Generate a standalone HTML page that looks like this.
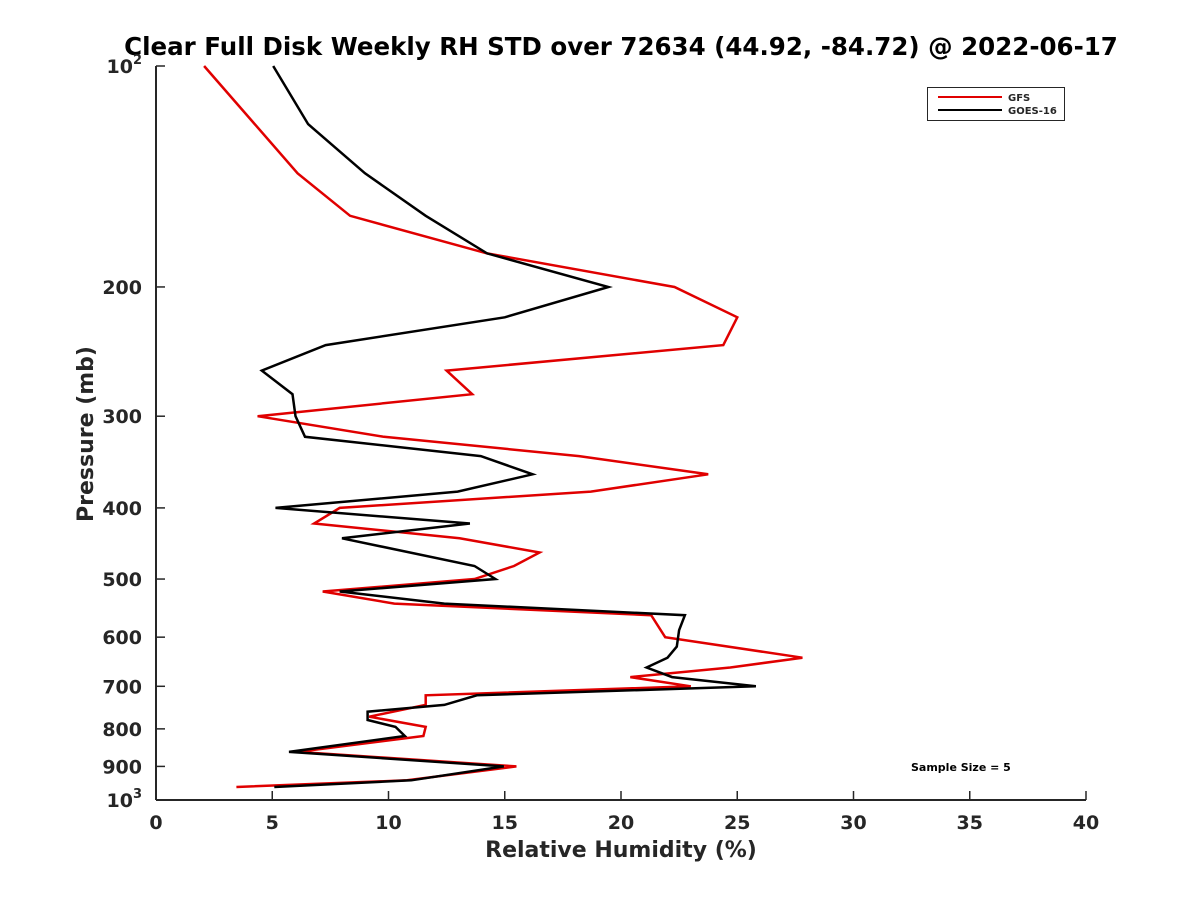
<!DOCTYPE html>
<html><head><meta charset="utf-8"><style>
body{margin:0;background:#fff;}
svg text{font-family:"DejaVu Sans","Liberation Sans",sans-serif;font-weight:bold;fill:#262626;}
</style></head><body>
<svg id="chart" width="1200" height="900" xmlns="http://www.w3.org/2000/svg">
<rect width="1200" height="900" fill="#fff"/>
<text x="621" y="55" font-size="24.5" text-anchor="middle" style="fill:#000">Clear Full Disk Weekly RH STD over 72634 (44.92, -84.72) @ 2022-06-17</text>
<g id="axes"></g>
<g id="series"></g>
<text x="621" y="857" font-size="22" text-anchor="middle">Relative Humidity (%)</text>
<text transform="translate(93,434) rotate(-90)" font-size="22" text-anchor="middle">Pressure (mb)</text>
<g>
<rect x="927.5" y="87.5" width="137" height="33" fill="#fff" stroke="#262626" stroke-width="1"/>
<line x1="938" y1="97" x2="1002" y2="97" stroke="#e00000" stroke-width="2"/>
<text x="1008" y="101" font-size="10">GFS</text>
<line x1="938" y1="110" x2="1002" y2="110" stroke="#000" stroke-width="2"/>
<text x="1008" y="114" font-size="10">GOES-16</text>
</g>
<text x="911" y="771" font-size="11" style="fill:#000">Sample Size = 5</text>
</svg>
<script>
const xTicks=[0,5,10,15,20,25,30,35,40];
const yTicks=[200,300,400,500,600,700,800,900];
const gfsPressure=[100,140,160,180,200,220,240,260,280,300,320,340,360,380,400,420,440,460,480,500,520,540,560,600,640,660,680,700,720,742,770,795,818,860,900,940,960];
const gfsValues=[2.07,6.09,8.35,14.24,22.3,25.0,24.4,12.5,13.6,4.37,9.8,18.2,23.75,18.7,7.9,6.8,13.06,16.5,15.4,13.7,7.17,10.25,21.3,21.9,27.8,24.7,20.4,23.0,11.6,11.6,9.17,11.6,11.5,6.1,15.5,10.8,3.46];
const goesPressure=[100,120,140,160,180,200,220,240,260,280,300,320,340,360,380,400,420,440,480,500,520,540,560,587,618,640,660,680,700,720,742,758,778,795,818,860,900,940,960];
const goesValues=[5.04,6.54,8.99,11.6,14.24,19.46,15.0,7.3,4.55,5.87,6.0,6.41,13.97,16.2,12.97,5.14,13.5,8.0,13.7,14.6,7.9,12.4,22.75,22.5,22.4,22.0,21.1,22.2,25.8,13.8,12.4,9.1,9.1,10.3,10.7,5.72,14.96,10.98,5.09];

const NS="http://www.w3.org/2000/svg";
const X0=156,X1=1086,Y0=66,Y1=800;
function xs(v){return X0+(v-0)/40*(X1-X0);}
function ys(p){return Y0+(Math.log10(p)-2)*(Y1-Y0);}
function mk(tag,attrs,parent){const e=document.createElementNS(NS,tag);for(const k in attrs)e.setAttribute(k,attrs[k]);parent.appendChild(e);return e;}
const axes=document.getElementById('axes');
const xa=mk('line',{x1:X0,y1:Y1,x2:X1,y2:Y1,stroke:'#262626','stroke-width':2},axes);


const ya=mk('line',{x1:X0,y1:Y0,x2:X0,y2:Y1,stroke:'#262626','stroke-width':2},axes);


xTicks.forEach(t=>{
  const x=xs(t);
  const tk=mk('line',{x1:x,y1:Y1,x2:x,y2:Y1-9,stroke:'#262626','stroke-width':1.5},axes);
  
  
  const tx=mk('text',{x:x,y:Y1+29,'font-size':19,'text-anchor':'middle'},axes);
  tx.textContent=t;
  
  
});
[100,1000].concat(yTicks).forEach(p=>{
  const y=ys(p);
  const tk=mk('line',{x1:X0,y1:y,x2:X0+9,y2:y,stroke:'#262626','stroke-width':1.5},axes);
  
  
  const tx=mk('text',{x:X0-14,y:y+7,'font-size':19,'text-anchor':'end'},axes);
  
  
  if(p===100||p===1000){
    tx.textContent='10';
    const s=mk('tspan',{dy:-9,'font-size':13},tx);
    s.textContent=p===100?'2':'3';
  } else tx.textContent=p;
});
const ser=document.getElementById('series');
function draw(ps,vs,color,name){
  const pts=ps.map((p,i)=>xs(vs[i]).toFixed(1)+','+ys(p).toFixed(1)).join(' ');
  const pl=mk('polyline',{points:pts,fill:'none',stroke:color,'stroke-width':2.5,'stroke-linejoin':'miter'},ser);
  
  
}
draw(gfsPressure,gfsValues,'#e00000','gfs-line');
draw(goesPressure,goesValues,'#000000','goes16-line');
</script>
</body></html>
